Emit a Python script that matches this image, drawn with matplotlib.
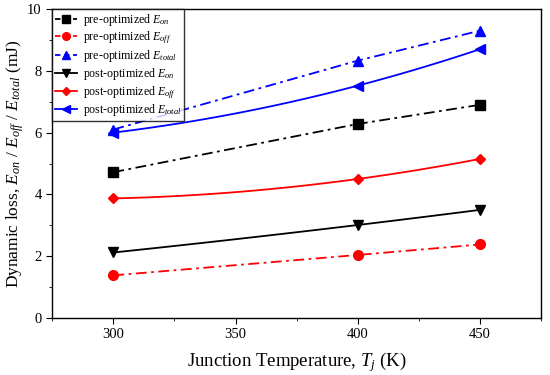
import numpy as np
import matplotlib
matplotlib.use("Agg")
import matplotlib.pyplot as plt
from matplotlib.ticker import MultipleLocator

plt.rcParams['font.family'] = ['Liberation Serif', 'DejaVu Serif']
plt.rcParams['mathtext.fontset'] = 'custom'
plt.rcParams['mathtext.rm'] = 'Liberation Serif'
plt.rcParams['mathtext.it'] = 'Liberation Serif:italic'

temps = [300, 400, 450]
pre_on = [4.72, 6.28, 6.90]
pre_off = [1.38, 2.04, 2.38]
pre_total = [6.10, 8.33, 9.30]
post_on = [2.12, 3.01, 3.50]
post_off = [3.87, 4.50, 5.15]
post_total = [6.00, 7.52, 8.70]

series = [
    ("pre-optimized $E_{on}$", pre_on, 'black', 's', 'straight'),
    ("pre-optimized $E_{off}$", pre_off, 'red', 'o', 'straight'),
    ("pre-optimized $E_{total}$", pre_total, 'blue', '^', 'straight'),
    ("post-optimized $E_{on}$", post_on, 'black', 'v', 'smooth'),
    ("post-optimized $E_{off}$", post_off, 'red', 'D', 'smooth'),
    ("post-optimized $E_{total}$", post_total, 'blue', '<', 'smooth'),
]

fig = plt.figure(figsize=(5.5, 3.75), dpi=100)
ax = fig.add_axes([0.095, 0.152, 0.889, 0.824])

handles = []
for label, vals, color, marker, kind in series:
    ls = (0, (6, 2.5, 1.5, 2.5)) if kind == 'straight' else '-'
    ms = 5.5 if marker == 'D' else 7
    if kind == 'smooth':
        coef = np.polyfit(temps, vals, 2)
        xs = np.linspace(temps[0], temps[-1], 100)
        ax.plot(xs, np.polyval(coef, xs), color=color, lw=1.3, ls=ls)
    else:
        ax.plot(temps, vals, color=color, lw=1.3, ls=ls)
    ax.plot(temps, vals, ls='none', marker=marker, color=color, ms=ms)
    h, = ax.plot([], [], color=color, lw=1.3, ls=(0, (3, 2)) if kind == 'straight' else '-',
                 marker=marker, ms=ms - 1.5, label=label)
    handles.append(h)

ax.set_xlim(275, 475)
ax.set_ylim(0, 10)
ax.xaxis.set_major_locator(MultipleLocator(50))
ax.xaxis.set_minor_locator(MultipleLocator(25))
ax.yaxis.set_major_locator(MultipleLocator(2))
ax.yaxis.set_minor_locator(MultipleLocator(1))
ax.tick_params(which='both', direction='out', top=False, right=False, labelsize=10.5)
ax.tick_params(which='major', length=4)
ax.tick_params(which='minor', length=2.5)
for s in ax.spines.values():
    s.set_linewidth(1.0)

ax.set_xlabel("Junction Temperature, $T_j$ (K)", fontsize=13.5, labelpad=6)
ax.set_ylabel("Dynamic loss, $E_{on}$ / $E_{off}$ / $E_{total}$ (mJ)", fontsize=12.5, labelpad=1)

leg = ax.legend(handles=handles, loc='upper left', fontsize=8.6, frameon=True, fancybox=False,
                edgecolor='black', borderaxespad=0, handlelength=1.8, labelspacing=0.15,
                borderpad=0.25, handletextpad=0.5)
leg.get_frame().set_linewidth(1.0)

fig.savefig("out.png", dpi=100)
